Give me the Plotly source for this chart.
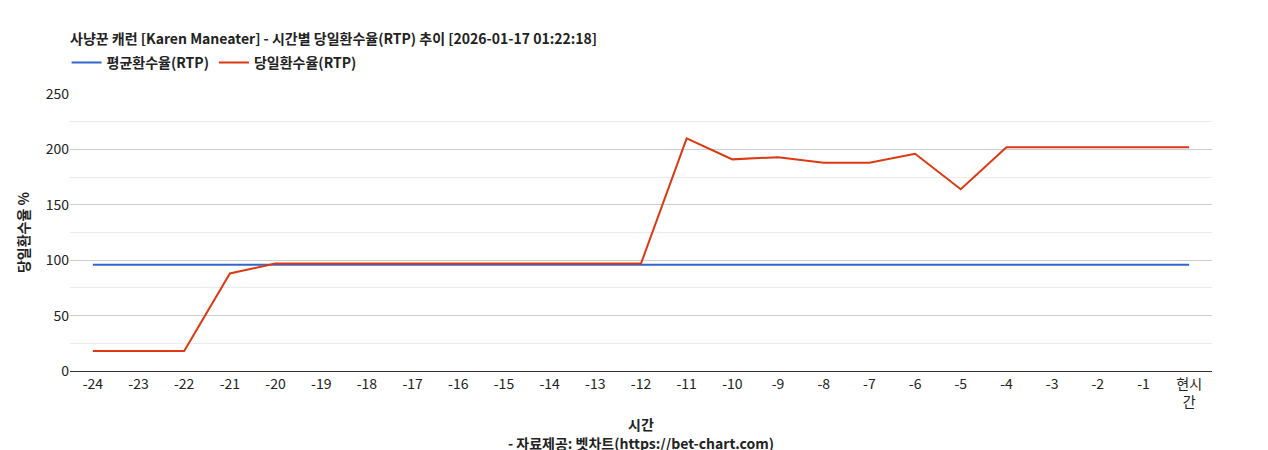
import plotly.graph_objects as go

hours = [str(h) for h in range(-24, 0)] + ["현시<br>간"]
avg_rtp = [96] * 25
daily_rtp = [18, 18, 18, 88, 97, 97, 97, 97, 97, 97, 97, 97, 97,
             210, 191, 193, 188, 188, 196, 164, 202, 202, 202, 202, 202]

font = "Noto Sans CJK KR"

fig = go.Figure()
fig.add_trace(go.Scatter(x=hours, y=avg_rtp, name="<b>평균환수율(RTP)</b>", mode="lines",
                         line=dict(color="#3366cc", width=2)))
fig.add_trace(go.Scatter(x=hours, y=daily_rtp, name="<b>당일환수율(RTP)</b>", mode="lines",
                         line=dict(color="#dc3912", width=2)))

fig.update_layout(
    width=1268, height=450,
    paper_bgcolor="white", plot_bgcolor="white",
    font=dict(family=font, size=14, color="#222"),
    margin=dict(l=62, r=64, t=86, b=87, autoexpand=False),
    title=dict(text="<b>사냥꾼 캐런 [Karen Maneater] - 시간별 당일환수율(RTP) 추이 [2026-01-17 01:22:18]</b>",
               x=62 / 1268, xanchor="left", xref="container", y=1 - 31 / 450, yanchor="middle",
               font=dict(size=14, color="#222")),
    legend=dict(orientation="h", x=-0.003, xanchor="left", y=1 + 31 / 277, yanchor="middle",
                font=dict(size=14), bgcolor="rgba(0,0,0,0)"),
    showlegend=True,
    xaxis=dict(type="category", range=[-0.5, 24.5], showgrid=False,
               showline=True, linecolor="#333", ticks="", tickfont=dict(size=14),
               title=dict(text="<b>시간</b><br><b>- 자료제공: 벳차트(https://bet-chart.com)</b>",
                          font=dict(size=14), standoff=10)),
    yaxis=dict(range=[0, 250], dtick=50, gridcolor="#cccccc", zeroline=False,
               tickfont=dict(size=14),
               minor=dict(dtick=25, showgrid=True, gridcolor="#ebebeb"),
               title=dict(text="<b>당일환수율 %</b>", font=dict(size=14), standoff=12)),
)

fig.write_html("out.html")
